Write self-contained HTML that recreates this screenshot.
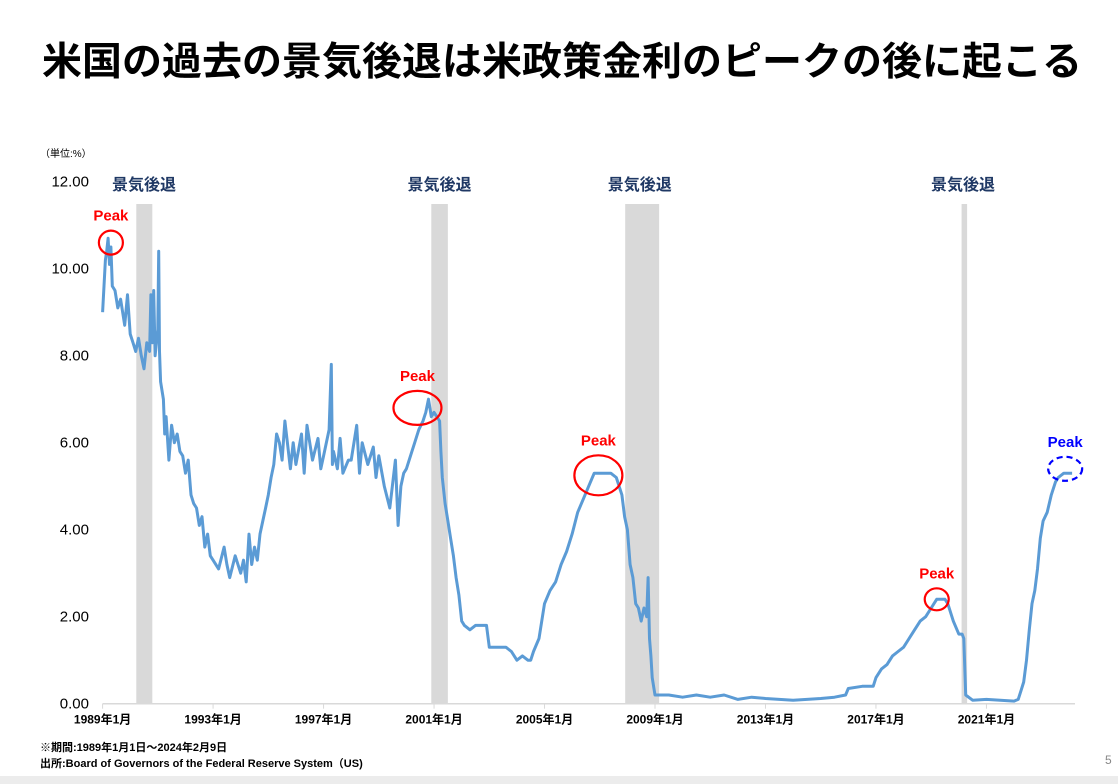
<!DOCTYPE html>
<html><head><meta charset="utf-8"><style>
body{margin:0;background:#fff;width:1118px;height:784px;overflow:hidden;font-family:"Liberation Sans","Noto Sans CJK JP",sans-serif}
</style></head><body>
<svg width="1118" height="784" style="position:absolute;left:0;top:0" font-family="Liberation Sans, Noto Sans CJK JP, sans-serif">
<rect x="0" y="776" width="1118" height="8" fill="#ececec"/>
<text x="562" y="75" font-size="39" font-weight="bold" text-anchor="middle" fill="#000" textLength="1040" lengthAdjust="spacingAndGlyphs">米国の過去の景気後退は米政策金利のピークの後に起こる</text>
<text x="40" y="157" font-size="10" fill="#000">（単位:%）</text>
<g id="bands"></g>
<g id="yaxis"></g>
<g id="xaxis"></g>
<path id="series" fill="none" stroke="#5b9bd5" stroke-width="3" stroke-linejoin="round"/>
<g id="notes"></g>
<text x="40" y="751" font-size="11" font-weight="bold" fill="#000">※期間:1989年1月1日～2024年2月9日</text>
<text x="40" y="767" font-size="11" font-weight="bold" fill="#000">出所:Board of Governors of the Federal Reserve System（US)</text>
<text x="1105" y="764" font-size="12" fill="#888">5</text>
</svg>
<script>
const yTicks=[0,2,4,6,8,10,12];
const xTickYears=[1989,1993,1997,2001,2005,2009,2013,2017,2021];
const recessions=[[1990.22,1990.8],[2000.9,2001.5],[2007.92,2009.15],[2020.1,2020.3]];
const recessionLabelYears=[1990.5,2001.2,2008.45,2020.15];
const times=[1989.0,1989.05,1989.1,1989.15,1989.2,1989.25,1989.3,1989.35,1989.45,1989.55,1989.65,1989.8,1989.9,1990.0,1990.1,1990.2,1990.3,1990.4,1990.5,1990.6,1990.7,1990.75,1990.8,1990.85,1990.9,1991.0,1991.03,1991.06,1991.1,1991.2,1991.25,1991.3,1991.4,1991.5,1991.6,1991.7,1991.8,1991.9,1992.0,1992.1,1992.2,1992.3,1992.4,1992.5,1992.6,1992.7,1992.8,1992.9,1993.0,1993.2,1993.4,1993.5,1993.6,1993.8,1994.0,1994.1,1994.2,1994.3,1994.4,1994.5,1994.6,1994.7,1994.8,1994.9,1995.0,1995.1,1995.2,1995.3,1995.4,1995.5,1995.6,1995.8,1995.9,1996.0,1996.2,1996.3,1996.4,1996.6,1996.8,1996.9,1997.0,1997.2,1997.28,1997.32,1997.36,1997.5,1997.6,1997.7,1997.9,1998.0,1998.2,1998.3,1998.4,1998.6,1998.8,1998.9,1999.0,1999.2,1999.4,1999.6,1999.7,1999.8,1999.9,2000.0,2000.2,2000.3,2000.45,2000.6,2000.7,2000.8,2000.9,2001.0,2001.1,2001.2,2001.25,2001.3,2001.4,2001.5,2001.6,2001.7,2001.8,2001.9,2002.0,2002.1,2002.3,2002.5,2002.7,2002.9,2003.0,2003.2,2003.4,2003.6,2003.8,2004.0,2004.2,2004.4,2004.5,2004.6,2004.8,2005.0,2005.2,2005.4,2005.6,2005.8,2006.0,2006.2,2006.4,2006.6,2006.8,2007.0,2007.2,2007.4,2007.6,2007.7,2007.8,2007.9,2008.0,2008.1,2008.2,2008.3,2008.4,2008.5,2008.6,2008.7,2008.75,2008.8,2008.85,2008.9,2009.0,2009.5,2010.0,2010.5,2011.0,2011.5,2012.0,2012.5,2013.0,2013.5,2014.0,2014.5,2015.0,2015.5,2015.9,2016.0,2016.5,2016.9,2017.0,2017.2,2017.4,2017.6,2017.8,2018.0,2018.2,2018.4,2018.6,2018.8,2019.0,2019.2,2019.4,2019.5,2019.6,2019.8,2020.0,2020.12,2020.18,2020.25,2020.5,2021.0,2021.5,2022.0,2022.15,2022.25,2022.35,2022.45,2022.55,2022.65,2022.75,2022.85,2022.95,2023.05,2023.2,2023.35,2023.5,2023.6,2023.8,2024.1];
const values=[9.0,9.6,10.2,10.4,10.7,10.1,10.5,9.6,9.5,9.1,9.3,8.7,9.4,8.5,8.3,8.1,8.4,8.0,7.7,8.3,8.1,9.4,8.3,9.5,8.0,8.6,10.4,8.1,7.4,7.0,6.2,6.6,5.6,6.4,6.0,6.2,5.8,5.7,5.3,5.6,4.8,4.6,4.5,4.1,4.3,3.6,3.9,3.4,3.3,3.1,3.6,3.2,2.9,3.4,3.0,3.3,2.8,3.9,3.2,3.6,3.3,3.9,4.2,4.5,4.8,5.2,5.5,6.2,6.0,5.6,6.5,5.4,6.0,5.5,6.2,5.3,6.4,5.6,6.1,5.4,5.7,6.3,7.8,5.5,5.8,5.4,6.1,5.3,5.6,5.6,6.4,5.3,6.0,5.5,5.9,5.2,5.7,5.0,4.5,5.6,4.1,5.0,5.3,5.4,5.8,6.0,6.3,6.5,6.7,7.0,6.6,6.7,6.6,6.5,5.8,5.2,4.6,4.2,3.8,3.4,2.9,2.5,1.9,1.8,1.7,1.8,1.8,1.8,1.3,1.3,1.3,1.3,1.2,1.0,1.1,1.0,1.0,1.2,1.5,2.3,2.6,2.8,3.2,3.5,3.9,4.4,4.7,5.0,5.3,5.3,5.3,5.3,5.2,5.0,4.8,4.3,4.0,3.2,2.9,2.3,2.2,1.9,2.2,2.0,2.9,1.5,1.1,0.6,0.2,0.2,0.15,0.2,0.15,0.2,0.1,0.15,0.12,0.1,0.08,0.1,0.12,0.15,0.2,0.35,0.4,0.4,0.6,0.8,0.9,1.1,1.2,1.3,1.5,1.7,1.9,2.0,2.2,2.4,2.4,2.4,2.3,1.9,1.6,1.6,1.5,0.2,0.08,0.1,0.08,0.06,0.1,0.3,0.5,1.0,1.7,2.3,2.6,3.1,3.8,4.2,4.4,4.8,5.1,5.2,5.3,5.3,5.3];
const peaks=[{t:1989.3,v:10.6,rx:12,ry:12,c:"red",dash:false},{t:2000.4,v:6.8,rx:24,ry:17,c:"red",dash:false},{t:2006.95,v:5.25,rx:24,ry:20,c:"red",dash:false},{t:2019.2,v:2.4,rx:12,ry:11,c:"red",dash:false},{t:2023.85,v:5.4,rx:17,ry:12,c:"blue",dash:true}];
const NS="http://www.w3.org/2000/svg";
const X0=102.6,PXY=27.62,Y0=703.7,PXV=43.5;
const xs=t=>X0+(t-1989)*PXY, ys=v=>Y0-v*PXV;
function mk(tag,attrs,parent,text){const e=document.createElementNS(NS,tag);for(const k in attrs)e.setAttribute(k,attrs[k]);if(text!==undefined)e.textContent=text;parent.appendChild(e);return e;}
const bands=document.getElementById('bands'),ya=document.getElementById('yaxis'),xa=document.getElementById('xaxis'),notes=document.getElementById('notes');
recessions.forEach((r,i)=>{
 const b=mk('rect',{x:xs(r[0]),y:204,width:xs(r[1])-xs(r[0]),height:Y0-204,fill:'#d9d9d9'},bands);
 
 
 const l=mk('text',{x:xs(recessionLabelYears[i]),y:190,'font-size':16,'font-weight':'bold',fill:'#1f3864','text-anchor':'middle'},bands,'景気後退');
 
 
});
yTicks.forEach(v=>{
 const t=mk('text',{x:89,y:ys(v)+5,'font-size':15,fill:'#000','text-anchor':'end'},ya,v.toFixed(2));
 
 
});
mk('line',{x1:X0,y1:Y0,x2:1075,y2:Y0,stroke:'#d9d9d9','stroke-width':1.5},xa);
xTickYears.forEach(y=>{
 mk('line',{x1:xs(y),y1:Y0,x2:xs(y),y2:Y0+5,stroke:'#d9d9d9'},xa);
 const t=mk('text',{x:xs(y),y:Y0+20,'font-size':12,'font-weight':'bold',fill:'#000','text-anchor':'middle'},xa,y+'年1月');
 
 
});
let d='';times.forEach((t,i)=>{d+=(i?'L':'M')+xs(t).toFixed(1)+','+ys(values[i]).toFixed(1);});
document.getElementById('series').setAttribute('d',d);
peaks.forEach(p=>{
 const cx=xs(p.t),cy=ys(p.v);
 const e=mk('ellipse',{cx:cx,cy:cy,rx:p.rx,ry:p.ry,fill:'none',stroke:p.c,'stroke-width':2.2},notes);
 if(p.dash)e.setAttribute('stroke-dasharray','6,4');
 
 
 const t=mk('text',{x:cx,y:cy-p.ry-10,'font-size':15,'font-weight':'bold',fill:p.c,'text-anchor':'middle'},notes,'Peak');
 
 
});
</script>
</body></html>
